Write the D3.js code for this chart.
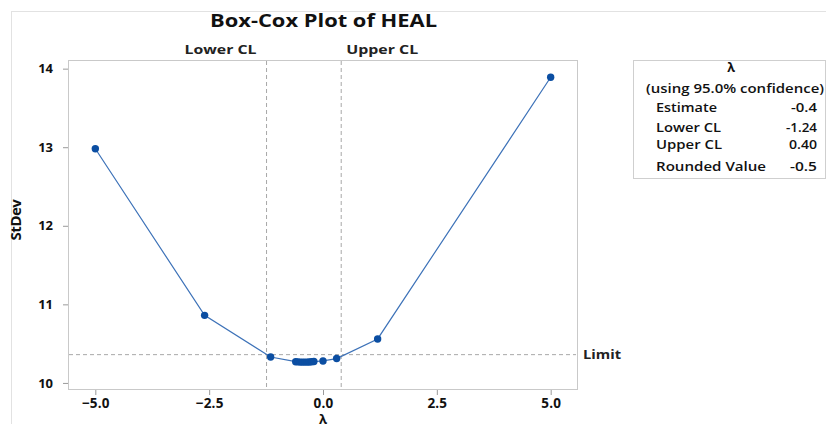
<!DOCTYPE html>
<html><head><meta charset="utf-8">
<script src="https://cdn.jsdelivr.net/npm/d3@7"></script>
<style>
body{margin:0;background:#fff;}
svg{display:block;font-family:"Open Sans","DejaVu Sans",sans-serif;}
</style></head>
<body><svg id="c" width="826" height="424"></svg>
<script>
const lambdas = [-5, -2.6, -1.15, -0.6, -0.55, -0.5, -0.45, -0.4, -0.35, -0.3, -0.25, -0.2, 0, 0.3, 1.2, 5];
const stdevs  = [12.98, 10.86, 10.33, 10.27, 10.268, 10.265, 10.265, 10.265, 10.265, 10.267, 10.27, 10.272, 10.28, 10.31, 10.56, 13.89];
const xTicks = [-5, -2.5, 0, 2.5, 5];
const yTicks = [10, 11, 12, 13, 14];
const lowerCL = -1.24, upperCL = 0.40, limitVal = 10.36;
const tableRows = [["Estimate","-0.4"],["Lower CL","-1.24"],["Upper CL","0.40"],["Rounded Value","-0.5"]];

const svg = d3.select("#c");
const L=68,R=578,T=60,B=390;
const x = d3.scaleLinear().domain([-5.6,5.6]).range([L,R]);
const y = d3.scaleLinear().domain([9.91,14.11]).range([B,T]);

function stretch(sel, w){ return sel.attr("textLength", w).attr("lengthAdjust","spacingAndGlyphs"); }

// outer faint border
svg.append("rect").attr("x",11.5).attr("y",11.5).attr("width",840).attr("height",440)
  .attr("fill","none").attr("stroke","#e2e2e2");

// title
stretch(svg.append("text").attr("x",210).attr("y",27)
  .attr("font-size",18).attr("font-weight","bold").attr("fill","#111")
  .text("Box-Cox Plot of HEAL"), 227);

// frame
svg.append("rect").attr("x",L+0.5).attr("y",T+0.5).attr("width",R-L-1).attr("height",B-T-1)
  .attr("fill","#fff").attr("stroke","#c9c9c9");

// axes
const xa = svg.append("g").attr("transform",`translate(0,${B})`)
  .call(d3.axisBottom(x).tickValues(xTicks).tickFormat(d3.format(".1f")).tickSize(5).tickPadding(3));
const ya = svg.append("g").attr("transform",`translate(${L},0)`)
  .call(d3.axisLeft(y).tickValues(yTicks).tickFormat(d3.format("d")).tickSize(5).tickPadding(10));
[xa,ya].forEach(a=>{
  a.select(".domain").remove();
  a.selectAll("line").attr("stroke","#9a9a9a");
  a.selectAll("text").attr("font-size",13).attr("font-weight","bold").attr("fill","#111")
    .attr("font-family","'Open Sans',sans-serif");
});
xa.selectAll("text").attr("font-size",13.5).attr("letter-spacing",0.2);

// reference lines
const dash="4,3";
svg.append("line").attr("x1",L+1).attr("x2",R-2).attr("y1",y(limitVal)).attr("y2",y(limitVal))
  .attr("stroke","#a8a8a8").attr("stroke-dasharray",dash);
[lowerCL,upperCL].forEach(v=>{
  svg.append("line").attr("x1",x(v)).attr("x2",x(v)).attr("y1",T+1).attr("y2",B-1)
    .attr("stroke","#a8a8a8").attr("stroke-dasharray",dash);
});
stretch(svg.append("text").attr("x",x(lowerCL)-82).attr("y",54)
  .attr("font-size",13).attr("font-weight","bold").attr("fill","#222").text("Lower CL"), 72);
stretch(svg.append("text").attr("x",x(upperCL)+5).attr("y",54)
  .attr("font-size",13).attr("font-weight","bold").attr("fill","#222").text("Upper CL"), 72);
stretch(svg.append("text").attr("x",583).attr("y",y(limitVal)+4.5).attr("font-size",13).attr("font-weight","bold")
  .attr("fill","#222").text("Limit"), 38);

// series
const pts = lambdas.map((l,i)=>({l,s:stdevs[i]}));
svg.append("path").datum(pts).attr("fill","none").attr("stroke","#3d72b8").attr("stroke-width",1.2)
  .attr("d",d3.line().x(d=>x(d.l)).y(d=>y(d.s)));
svg.selectAll("circle.p").data(pts).join("circle").attr("class","p")
  .attr("cx",d=>x(d.l)).attr("cy",d=>y(d.s)).attr("r",3.7).attr("fill","#0b4ea2");

// axis titles
svg.append("text").attr("transform","translate(21,220) rotate(-90)").attr("text-anchor","middle")
  .attr("font-size",15).attr("font-weight","bold").attr("letter-spacing",-0.5).attr("fill","#111").text("StDev");
svg.append("text").attr("x",323).attr("y",424).attr("text-anchor","middle")
  .attr("font-size",13).attr("font-weight","bold").attr("fill","#111").text("λ");

// table
const tb = svg.append("g");
tb.append("rect").attr("x",633.5).attr("y",60.5).attr("width",192).attr("height",118)
  .attr("fill","#fff").attr("stroke","#cfcfcf");
tb.append("text").attr("x",731).attr("y",72).attr("text-anchor","middle").attr("font-size",12.5)
  .attr("font-weight","bold").attr("fill","#111").text("λ");
stretch(tb.append("text").attr("x",646).attr("y",93).attr("font-size",12.5)
  .attr("font-weight",600).attr("fill","#111").text("(using 95.0% confidence)"), 178);
const rowY=[112,132,149,171];
const labW=[61,65,66,110], valW=[26,31,28,27];
tableRows.forEach((r,i)=>{
  stretch(tb.append("text").attr("x",656).attr("y",rowY[i]).attr("font-size",12).attr("font-weight",600)
    .attr("fill","#111").text(r[0]), labW[i]);
  stretch(tb.append("text").attr("x",817-valW[i]).attr("y",rowY[i]).attr("font-size",12)
    .attr("font-weight",600).attr("fill","#111").text(r[1]), valW[i]);
});
</script></body></html>
